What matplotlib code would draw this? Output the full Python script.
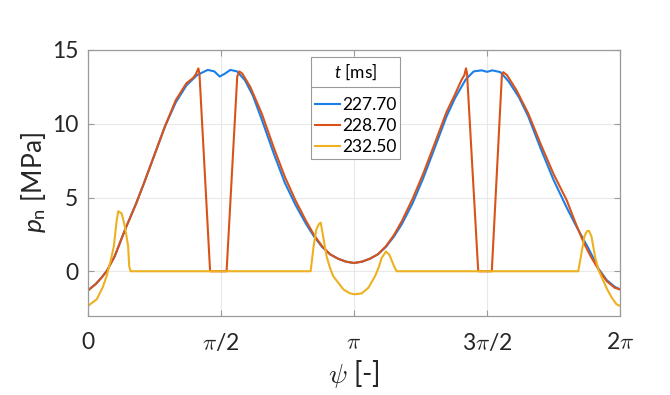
import numpy as np
import matplotlib
matplotlib.use("Agg")
import matplotlib.pyplot as plt
from matplotlib.lines import Line2D
from matplotlib.transforms import IdentityTransform

plt.rcParams['font.family'] = ['Lato', 'DejaVu Sans']
plt.rcParams['mathtext.fontset'] = 'custom'
plt.rcParams['mathtext.rm'] = 'Lato'
plt.rcParams['mathtext.it'] = 'Lato:italic'

# angle psi in units of pi, contact pressure in MPa
psi_a = [0.00, 0.03, 0.05, 0.07, 0.10, 0.14, 0.18, 0.21, 0.25, 0.29, 0.33, 0.37,
         0.41, 0.45, 0.475, 0.495, 0.515, 0.535, 0.56, 0.59, 0.62, 0.653, 0.70,
         0.74, 0.78, 0.82, 0.85, 0.88, 0.91, 0.94, 0.97, 1.00, 1.03, 1.06, 1.09,
         1.12, 1.15, 1.18, 1.22, 1.26, 1.30, 1.348, 1.38, 1.42, 1.45, 1.48, 1.50,
         1.52, 1.55, 1.58, 1.62, 1.655, 1.70, 1.75, 1.80, 1.84, 1.88, 1.92, 1.95,
         1.98, 2.00]
p_a = [-1.30, -0.85, -0.45, 0.00, 1.00, 2.85, 4.55, 5.95, 7.90, 9.85, 11.45, 12.60,
       13.30, 13.65, 13.55, 13.20, 13.40, 13.65, 13.55, 12.95, 11.90, 10.30, 7.90,
       6.00, 4.50, 3.20, 2.35, 1.65, 1.15, 0.85, 0.65, 0.56, 0.65, 0.85, 1.15,
       1.65, 2.35, 3.20, 4.60, 6.30, 8.20, 10.50, 11.75, 13.00, 13.55, 13.62, 13.52,
       13.62, 13.50, 12.90, 11.80, 10.50, 8.40, 6.20, 4.30, 2.90, 1.60, 0.15, -0.60,
       -1.05, -1.23]

psi_b = [0.00, 0.03, 0.05, 0.07, 0.10, 0.14, 0.18, 0.21, 0.25, 0.29, 0.33, 0.37,
         0.395, 0.405, 0.415, 0.419, 0.459, 0.521, 0.561, 0.569, 0.58, 0.61, 0.653,
         0.70, 0.74, 0.78, 0.82, 0.85, 0.88, 0.91, 0.94, 0.97, 1.00, 1.03, 1.06,
         1.09, 1.12, 1.15, 1.18, 1.22, 1.26, 1.30, 1.348, 1.38, 1.405, 1.415, 1.421,
         1.425, 1.467, 1.518, 1.556, 1.561, 1.575, 1.61, 1.655, 1.70, 1.75, 1.80,
         1.83, 1.862, 1.89, 1.92, 1.95, 1.98, 2.00]
p_b = [-1.30, -0.85, -0.45, 0.00, 1.00, 2.85, 4.55, 5.95, 7.90, 9.85, 11.60, 12.75,
       13.10, 13.35, 13.75, 13.40, 0.00, 0.00, 13.20, 13.55, 13.40, 12.50, 10.70,
       8.30, 6.40, 4.80, 3.40, 2.45, 1.70, 1.15, 0.85, 0.65, 0.56, 0.65, 0.85,
       1.15, 1.70, 2.45, 3.40, 4.90, 6.60, 8.50, 10.80, 12.00, 13.00, 13.30, 13.76,
       13.40, 0.00, 0.00, 13.30, 13.50, 13.30, 12.30, 10.70, 8.70, 6.60, 4.80,
       3.40, 2.00, 1.00, 0.10, -0.67, -1.12, -1.23]

psi_c = [0.000, 0.033, 0.055, 0.070, 0.085, 0.097, 0.108, 0.114, 0.120, 0.127,
         0.139, 0.151, 0.155, 0.160, 0.837, 0.848, 0.858, 0.868, 0.875, 0.884,
         0.897, 0.910, 0.922, 0.941, 0.960, 0.985, 1.003, 1.029, 1.054, 1.079,
         1.092, 1.104, 1.120, 1.133, 1.148, 1.160, 1.843, 1.853, 1.866, 1.875,
         1.883, 1.893, 1.906, 1.919, 1.935, 1.952, 1.969, 1.987, 2.000]
p_c = [-2.35, -1.90, -1.10, -0.33, 0.70, 1.68, 3.47, 4.07, 4.00, 3.90,
       3.00, 1.68, 0.33, 0.00, 0.00, 1.68, 2.80, 3.20, 3.29, 2.35,
       1.00, 0.22, -0.34, -0.78, -1.23, -1.50, -1.56, -1.50, -1.12, -0.34,
       0.22, 0.90, 1.34, 1.12, 0.45, 0.00, 0.00, 1.00, 2.35, 2.70,
       2.75, 2.35, 1.00, 0.10, -0.56, -1.23, -1.79, -2.24, -2.35]

labels = ['227.70', '228.70', '232.50']
colors = ['#1A7FEA', '#D95319', '#EDB120']
xtick_pos = [0, 0.5, 1, 1.5, 2]
xtick_lab = ['0', r'$\pi$/2', r'$\pi$', r'3$\pi$/2', r'2$\pi$']
yticks = [0, 5, 10, 15]

fig = plt.figure(figsize=(6.7, 3.95), dpi=100)
ax = fig.add_axes([88 / 670, 1 - 315.5 / 395, 532 / 670, 265.5 / 395])

for psi, p, lab, c in zip([psi_a, psi_b, psi_c], [p_a, p_b, p_c], labels, colors):
    ax.plot(np.array(psi) * np.pi, p, color=c, lw=1.5, label=lab)

ax.set_xlim(0, 2 * np.pi)
ax.set_ylim(-3, 15)
ax.set_xticks(np.array(xtick_pos) * np.pi)
ax.set_xticklabels(xtick_lab)
for t in ax.get_xticklabels():
    t.set_math_fontfamily('cm')
ax.set_yticks(yticks)
ax.grid(True, color='#e8e8e8', lw=0.8)
ax.set_axisbelow(True)
for s in ax.spines.values():
    s.set_color('#9a9a9a')
    s.set_linewidth(0.9)
ax.tick_params(direction='in', length=4, width=0.8, color='#9a9a9a',
               top=True, right=True, labelsize=16.5, labelcolor='#262626')
ax.tick_params(axis='x', pad=12)
ax.tick_params(axis='y', pad=7)

ax.set_ylabel(r'$p_\mathrm{n}$ [MPa]', fontsize=19, color='#262626', labelpad=3)
xl = ax.set_xlabel(r'$\psi$ [-]', fontsize=20, color='#262626', labelpad=3)
xl.set_math_fontfamily('cm')

leg = ax.legend(title=r'$t$ [ms]', loc='upper left', bbox_to_anchor=(0.4186, 0.9725),
                borderaxespad=0, fontsize=12.5, title_fontsize=12.5, fancybox=False,
                framealpha=1, edgecolor='#9a9a9a', handlelength=1.45,
                handletextpad=0.15, labelspacing=0.3, borderpad=0.22)
leg.get_frame().set_linewidth(0.8)
leg._legend_box.sep = 11

fig.canvas.draw()
r = fig.canvas.get_renderer()
fb = leg.get_frame().get_window_extent(r)
tb = leg.get_title().get_window_extent(r)
ysep = tb.y0 - 5
fig.add_artist(Line2D([fb.x0, fb.x1], [ysep, ysep], transform=IdentityTransform(),
                      color='#9a9a9a', lw=0.8))

fig.savefig('out.png', dpi=100)
